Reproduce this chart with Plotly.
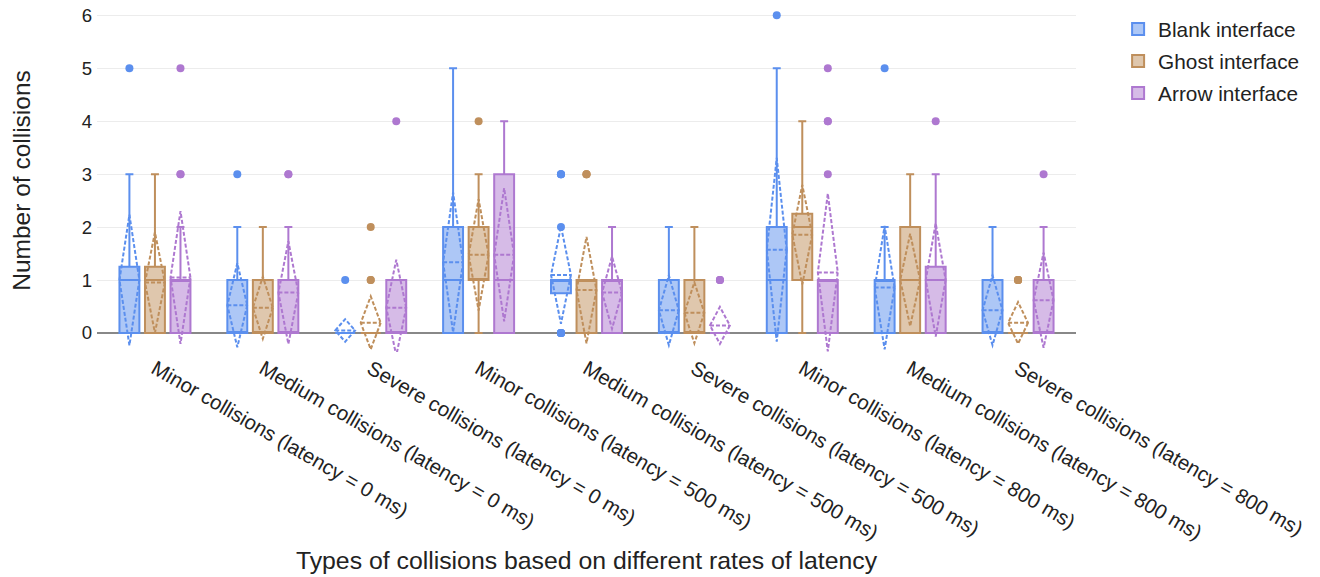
import numpy as np
import plotly.graph_objects as go

categories = [
    "Minor collisions (latency = 0 ms)",
    "Medium collisions (latency = 0 ms)",
    "Severe collisions (latency = 0 ms)",
    "Minor collisions (latency = 500 ms)",
    "Medium collisions (latency = 500 ms)",
    "Severe collisions (latency = 500 ms)",
    "Minor collisions (latency = 800 ms)",
    "Medium collisions (latency = 800 ms)",
    "Severe collisions (latency = 800 ms)",
]
collision_values = [0, 1, 2, 3, 4, 5, 6]

# number of participants with 0,1,2,3,4,5,6 collisions, per category
blank_counts = [
    [9, 7, 3, 1, 0, 1, 0],
    [13, 6, 1, 1, 0, 0, 0],
    [20, 1, 0, 0, 0, 0, 0],
    [6, 8, 4, 1, 1, 1, 0],
    [5, 12, 1, 3, 0, 0, 0],
    [14, 5, 2, 0, 0, 0, 0],
    [6, 8, 3, 1, 0, 2, 1],
    [10, 7, 3, 0, 0, 1, 0],
    [14, 5, 2, 0, 0, 0, 0],
]
ghost_counts = [
    [8, 8, 3, 2, 0, 0, 0],
    [12, 8, 1, 0, 0, 0, 0],
    [18, 2, 1, 0, 0, 0, 0],
    [4, 7, 7, 2, 1, 0, 0],
    [10, 8, 0, 3, 0, 0, 0],
    [14, 6, 1, 0, 0, 0, 0],
    [1, 7, 8, 4, 1, 0, 0],
    [7, 8, 5, 1, 0, 0, 0],
    [17, 4, 0, 0, 0, 0, 0],
]
arrow_counts = [
    [8, 9, 1, 2, 0, 1, 0],
    [11, 6, 2, 2, 0, 0, 0],
    [14, 6, 0, 0, 1, 0, 0],
    [6, 6, 3, 5, 1, 0, 0],
    [8, 10, 3, 0, 0, 0, 0],
    [18, 3, 0, 0, 0, 0, 0],
    [9, 8, 0, 1, 2, 1, 0],
    [8, 8, 3, 1, 1, 0, 0],
    [13, 4, 3, 1, 0, 0, 0],
]

series = [
    ("Blank interface", blank_counts, "#5B8FEE"),
    ("Ghost interface", ghost_counts, "#BF8F5C"),
    ("Arrow interface", arrow_counts, "#AE78D0"),
]

fig = go.Figure()
for name, counts, color in series:
    xs, ys = [], []
    for cat, freq in zip(categories, counts):
        vals = np.repeat(collision_values, freq)
        xs += [cat] * len(vals)
        ys += list(vals)
    fig.add_trace(go.Box(
        x=xs, y=ys, name=name, legendgroup=name,
        boxmean="sd", boxpoints="outliers",
        line=dict(color=color, width=2),
        marker=dict(color=color, size=8),
        whiskerwidth=0.4,
    ))

font_family = "Arial, Liberation Sans, sans-serif"
fig.update_layout(
    width=1320, height=577,
    boxmode="group", boxgap=0.29, boxgroupgap=0.22,
    plot_bgcolor="white", paper_bgcolor="white",
    margin=dict(l=89, r=252, t=1, b=233),
    font=dict(family=font_family, size=20, color="#222"),
    legend=dict(x=1.043, y=1.0, xanchor="left", yanchor="top",
                font=dict(size=20.8), tracegroupgap=2),
    xaxis=dict(
        tickangle=30, showgrid=False, showline=False, automargin=False,
        title=dict(text="Types of collisions based on different rates of latency",
                   font=dict(size=24.8), standoff=8),
        tickfont=dict(size=20.5),
    ),
    yaxis=dict(
        range=[-0.36, 6.12], dtick=1, showgrid=True, gridcolor="#ececec",
        zeroline=True, zerolinecolor="#888", zerolinewidth=2, automargin=False,
        ticklabeloverflow="allow", ticklabelstandoff=4,
        title=dict(text="Number of collisions", font=dict(size=24.5), standoff=45),
        tickfont=dict(size=18.6),
    ),
)
fig.write_html("out.html")
